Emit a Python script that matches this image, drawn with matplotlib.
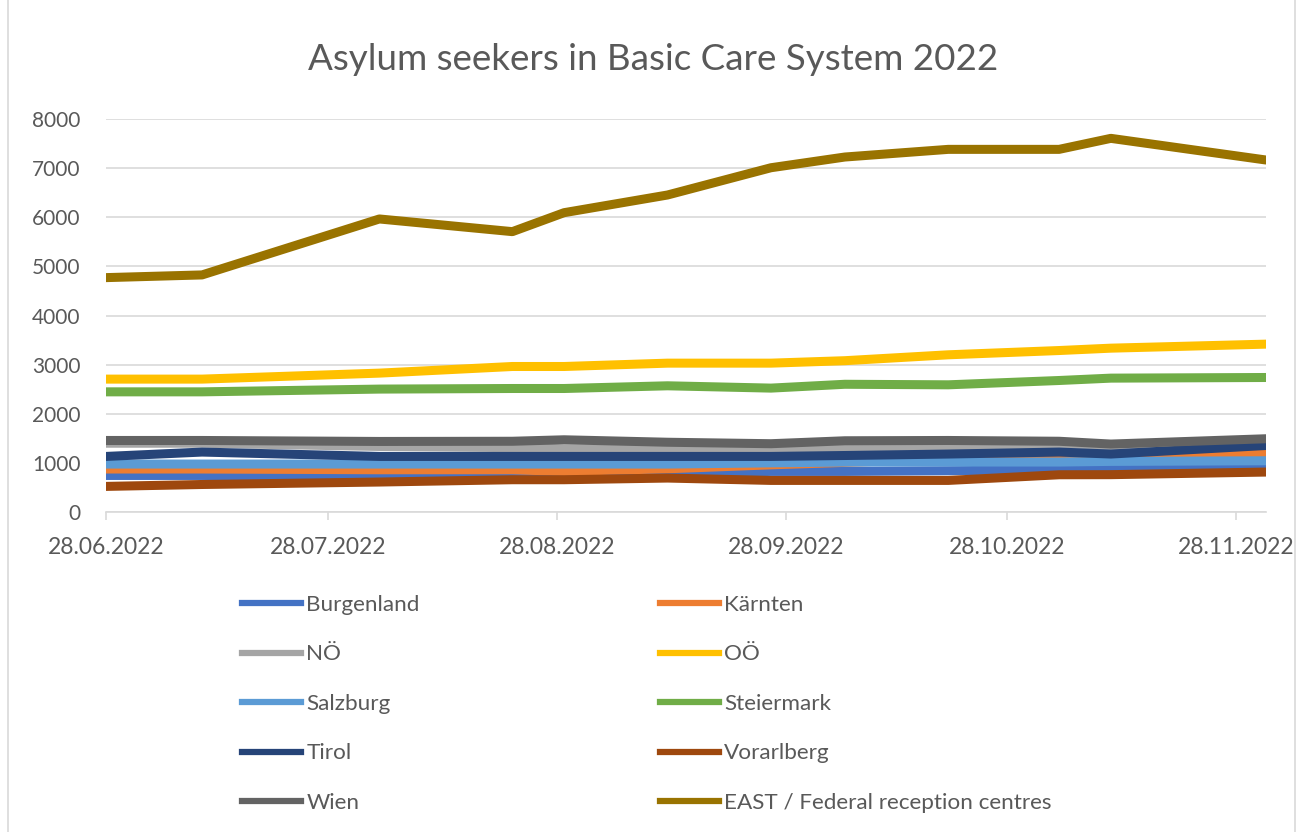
import matplotlib
matplotlib.use("Agg")
import matplotlib.pyplot as plt
import matplotlib.dates as mdates
from matplotlib.lines import Line2D
import numpy as np
import pandas as pd

dates = pd.to_datetime(["2022-06-28", "2022-07-11", "2022-08-04", "2022-08-22", "2022-08-29",
                        "2022-09-12", "2022-09-26", "2022-10-06", "2022-10-20", "2022-11-04",
                        "2022-11-11", "2022-12-02"])

burgenland = [744, 744, 724, 758, 770, 793, 826, 826, 840, 860, 870, 907]
kaernten   = [875, 875, 860, 860, 826, 880, 960, 1010, 1080, 1110, 1090, 1180]
noe        = [1400, 1400, 1334, 1310, 1287, 1287, 1267, 1280, 1301, 1320, 1350, 1420]
ooe        = [2705, 2705, 2827, 2962, 2962, 3030, 3030, 3080, 3200, 3287, 3335, 3417]
salzburg   = [976, 976, 976, 976, 976, 976, 1000, 1017, 1017, 1017, 1030, 1043]
steiermark = [2446, 2446, 2502, 2514, 2514, 2569, 2522, 2600, 2589, 2677, 2725, 2738]
tirol      = [1131, 1220, 1131, 1131, 1131, 1131, 1131, 1150, 1180, 1220, 1180, 1354]
vorarlberg = [521, 560, 610, 657, 657, 691, 643, 643, 643, 758, 760, 813]
wien       = [1456, 1456, 1436, 1440, 1470, 1420, 1390, 1450, 1456, 1440, 1383, 1491]
east       = [4771, 4826, 5965, 5707, 6093, 6453, 7008, 7226, 7382, 7382, 7606, 7165]

labels = ["Burgenland", "Kärnten", "NÖ", "OÖ", "Salzburg", "Steiermark", "Tirol",
          "Vorarlberg", "Wien", "EAST / Federal reception centres"]
series = [burgenland, kaernten, noe, ooe, salzburg, steiermark, tirol, vorarlberg, wien, east]
colors = ["#4472C4", "#ED7D31", "#A5A5A5", "#FFC000", "#5B9BD5", "#70AD47",
          "#264478", "#9E480E", "#636363", "#997300"]

title = "Asylum seekers in Basic Care System 2022"
yticks = [0, 1000, 2000, 3000, 4000, 5000, 6000, 7000, 8000]

plt.rcParams['font.family'] = ['Lato', 'DejaVu Sans']
W, H = 1298, 832
fig = plt.figure(figsize=(W / 100, H / 100), dpi=100)
ax = fig.add_axes([106 / W, 1 - 512 / H, (1266 - 106) / W, (512 - 119) / H])

for s, lab, c in zip(series, labels, colors):
    ax.plot(dates, s, color=c, lw=6.5, solid_capstyle='round',
            solid_joinstyle='round', label=lab)

ax.set_ylim(0, 8000)
ax.set_yticks(yticks)
ax.set_xlim(dates[0], dates[-1])
ax.xaxis.set_major_locator(mdates.MonthLocator(bymonthday=28))
ax.xaxis.set_major_formatter(mdates.DateFormatter('%d.%m.%Y'))
ax.grid(axis='y', color='#D9D9D9', lw=1.2)
ax.set_axisbelow(True)
for sp in ['top', 'right', 'left']:
    ax.spines[sp].set_visible(False)
ax.spines['bottom'].set_color('#D9D9D9')
ax.spines['bottom'].set_linewidth(1.2)
ax.tick_params(axis='y', length=0, pad=18.5, labelsize=15, labelcolor='#595959')
ax.tick_params(axis='x', length=6, width=1.2, color='#D9D9D9', direction='out',
               pad=12, labelsize=16.5, labelcolor='#595959')

fig.text(653 / W, 1 - 60 / H, title, ha='center', va='center', fontsize=26.5, color='#595959')

order1 = [0, 2, 4, 6, 8]
order2 = [1, 3, 5, 7, 9]
for order, xpos in [(order1, 242), (order2, 660)]:
    hs = [Line2D([0], [0], color=colors[i], lw=4.5) for i in order]
    fig.legend(hs, [labels[i] for i in order], loc='upper left',
               bbox_to_anchor=(xpos / W, 1 - 595 / H), frameon=False,
               fontsize=16.2, labelcolor='#595959', handlelength=2.6, handletextpad=0.26,
               labelspacing=1.31, borderaxespad=0, borderpad=0)

# chart frame edges
fig.add_artist(Line2D([8 / W, 8 / W], [0, 1], color='#D9D9D9', lw=1.2))
fig.add_artist(Line2D([1295 / W, 1295 / W], [0, 1], color='#D9D9D9', lw=1.2))

fig.savefig("out.png", dpi=100)
